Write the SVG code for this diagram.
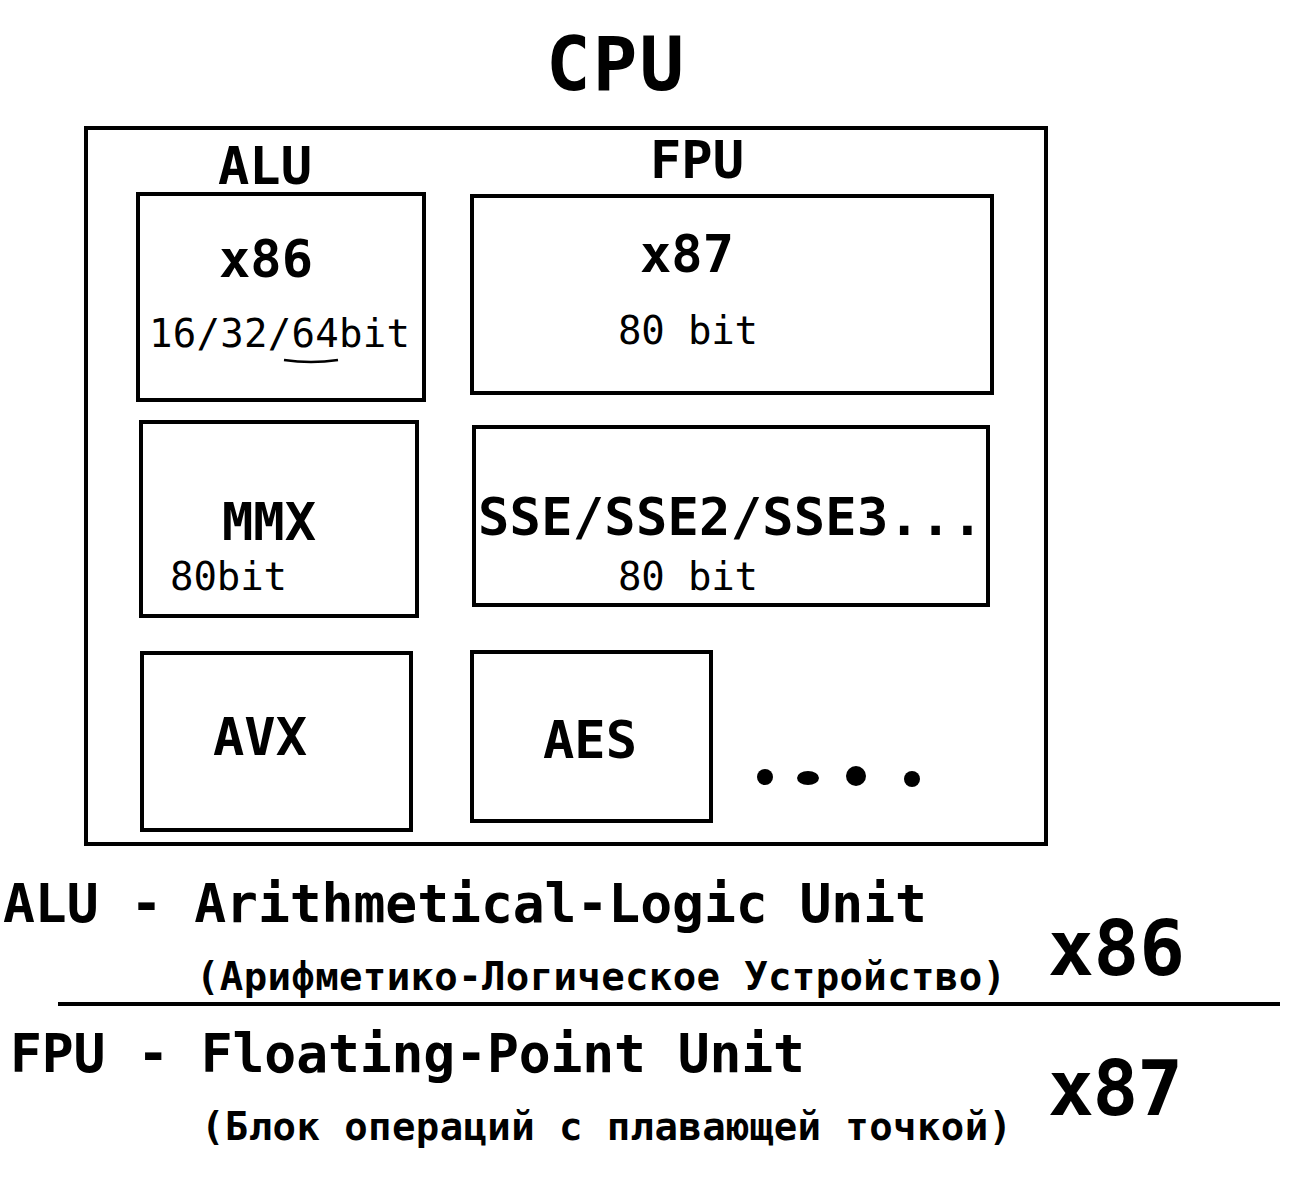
<svg xmlns="http://www.w3.org/2000/svg" width="1316" height="1196" viewBox="0 0 1316 1196">
<style>
.box{fill:none;stroke:#000;stroke-width:4}
.b{font-family:"DejaVu Sans Mono","Liberation Mono",monospace;font-weight:bold;fill:#000}
.r{font-family:"DejaVu Sans Mono","Liberation Mono",monospace;fill:#000}
</style>
<rect width="1316" height="1196" fill="#fff"/>
<text class="b" x="615" y="90" font-size="74" text-anchor="middle" textLength="138">CPU</text>
<g id="cpu"><rect class="box" x="86" y="128" width="960" height="716"/></g>
<text class="b" x="265" y="184" font-size="52" text-anchor="middle">ALU</text>
<text class="b" x="697" y="178" font-size="52" text-anchor="middle">FPU</text>
<g id="x86">
<rect class="box" x="138" y="194" width="286" height="206"/>
<text class="b" x="266" y="277" font-size="52" text-anchor="middle">x86</text>
<text class="r" x="149" y="347" font-size="39" textLength="261">16/32/64bit</text>
<path d="M284 360 Q311 364 338 360" fill="none" stroke="#000" stroke-width="2.5"/>
</g>
<g id="x87">
<rect class="box" x="472" y="196" width="520" height="197"/>
<text class="b" x="687" y="272" font-size="52" text-anchor="middle">x87</text>
<text class="r" x="618" y="344" font-size="39" textLength="140">80 bit</text>
</g>
<g id="mmx">
<rect class="box" x="141" y="422" width="276" height="194"/>
<text class="b" x="269" y="540" font-size="52" text-anchor="middle">MMX</text>
<text class="r" x="170" y="590" font-size="39" textLength="117">80bit</text>
</g>
<g id="sse">
<rect class="box" x="474" y="427" width="514" height="178"/>
<text class="b" x="478" y="535" font-size="52" textLength="505">SSE/SSE2/SSE3...</text>
<text class="r" x="618" y="590" font-size="39" textLength="140">80 bit</text>
</g>
<g id="avx">
<rect class="box" x="142" y="653" width="269" height="177"/>
<text class="b" x="260" y="755" font-size="52" text-anchor="middle">AVX</text>
</g>
<g id="aes">
<rect class="box" x="472" y="652" width="239" height="169"/>
<text class="b" x="590" y="758" font-size="52" text-anchor="middle">AES</text>
</g>
<g id="dots" fill="#000">
<ellipse cx="765" cy="777" rx="8" ry="8"/>
<ellipse cx="808" cy="778" rx="11" ry="7"/>
<ellipse cx="856" cy="776" rx="10" ry="10"/>
<ellipse cx="912" cy="779" rx="8" ry="8"/>
</g>
<g id="legend">
<text class="b" x="3" y="922" font-size="53" textLength="924">ALU - Arithmetical-Logic Unit</text>
<text class="b" x="196" y="990" font-size="39" textLength="810">(Арифметико-Логическое Устройство)</text>
<text class="b" x="1048" y="975" font-size="76" textLength="137">x86</text>
<line x1="58" y1="1004" x2="1280" y2="1004" stroke="#000" stroke-width="4"/>
<text class="b" x="10" y="1072" font-size="53" textLength="795">FPU - Floating-Point Unit</text>
<text class="b" x="201" y="1140" font-size="39" textLength="811">(Блок операций с плавающей точкой)</text>
<text class="b" x="1048" y="1115" font-size="76" textLength="135">x87</text>
</g>
</svg>
